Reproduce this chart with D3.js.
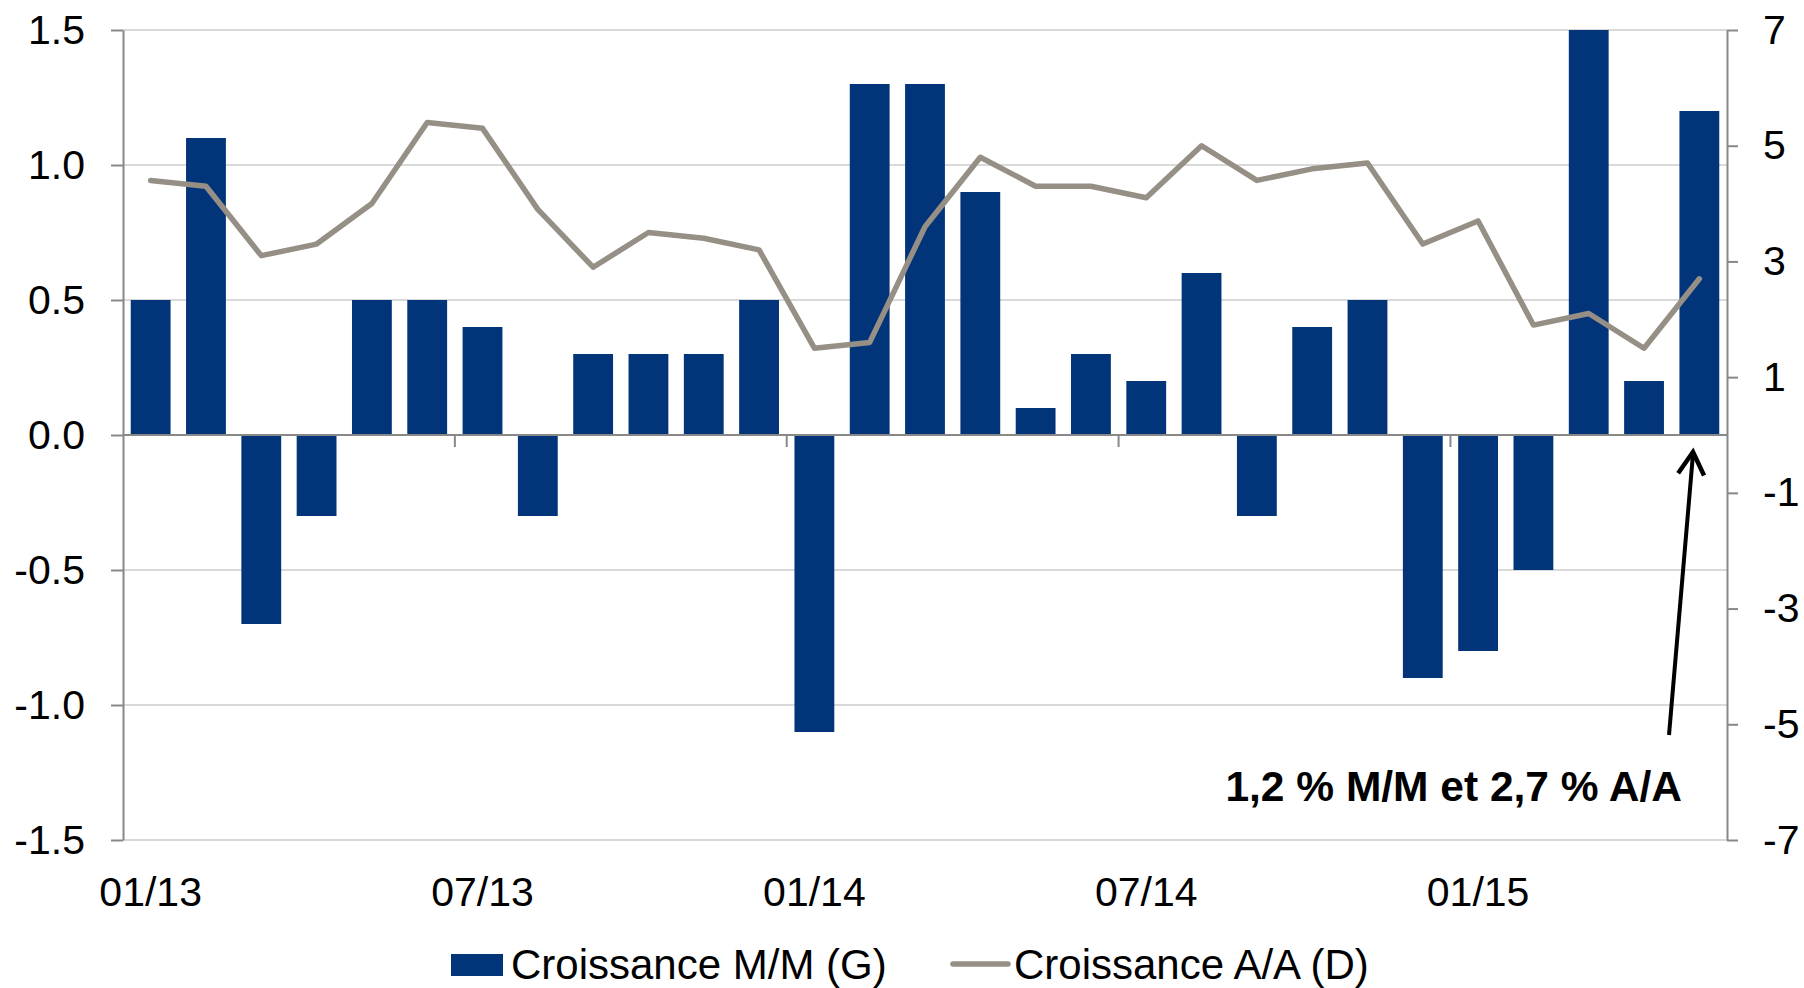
<!DOCTYPE html>
<html>
<head>
<meta charset="utf-8">
<script src="https://cdn.jsdelivr.net/npm/d3@7"></script>
<style>
  html, body { margin: 0; padding: 0; background: #fff; }
  svg { display: block; font-family: "Liberation Sans", Arial, sans-serif; }
</style>
</head>
<body>
<svg id="chart" width="1804" height="988"></svg>
<script>
// months, 01/13 .. 05/15
const months = [
  '01/13', '02/13', '03/13', '04/13', '05/13', '06/13', '07/13', '08/13', '09/13', '10/13', '11/13', '12/13',
  '01/14', '02/14', '03/14', '04/14', '05/14', '06/14', '07/14', '08/14', '09/14', '10/14', '11/14', '12/14',
  '01/15', '02/15', '03/15', '04/15', '05/15'
];

// Croissance M/M (G) - bars, left axis
const mmGrowth = [
  0.5, 1.1, -0.7, -0.3, 0.5, 0.5, 0.4, -0.3, 0.3, 0.3, 0.3, 0.5,
  -1.1, 1.3, 1.3, 0.9, 0.1, 0.3, 0.2, 0.6, -0.3, 0.4, 0.5, -0.9,
  -0.8, -0.5, 1.5, 0.2, 1.2
];

// Croissance A/A (D) - line, right axis
const aaGrowth = [
  4.4, 4.3, 3.1, 3.3, 4.0, 5.4, 5.3, 3.9, 2.9, 3.5, 3.4, 3.2,
  1.5, 1.6, 3.6, 4.8, 4.3, 4.3, 4.1, 5.0, 4.4, 4.6, 4.7, 3.3,
  3.7, 1.9, 2.1, 1.5, 2.7
];

const xLabels = ['01/13', '07/13', '01/14', '07/14', '01/15'];
const leftTicks = [-1.5, -1.0, -0.5, 0.0, 0.5, 1.0, 1.5];
const leftTickLabels = ['-1.5', '-1.0', '-0.5', '0.0', '0.5', '1.0', '1.5'];
const rightTicks = [-7, -5, -3, -1, 1, 3, 5, 7];
const rightTickLabels = ['-7', '-5', '-3', '-1', '1', '3', '5', '7'];
const seriesNames = ['Croissance M/M (G)', 'Croissance A/A (D)'];
const note = '1,2 % M/M et 2,7 % A/A';

const barColor = '#02347a';
const lineColor = '#968f86';
const axisColor = '#888888';
const gridColor = '#d9d9d9';
const fontSize = 41;

const plotLeft = 123, plotRight = 1727, plotTop = 30, plotBottom = 840;

const svg = d3.select('#chart');

const x = d3.scaleBand().domain(months).range([plotLeft, plotRight])
  .paddingInner(0.28).paddingOuter(0.14);
const yL = d3.scaleLinear().domain([-1.5, 1.5]).range([plotBottom, plotTop]);
const yR = d3.scaleLinear().domain([-7, 7]).range([plotBottom, plotTop]);

// gridlines
svg.append('g').selectAll('line').data(leftTicks).enter()
  .append('line')
  .attr('x1', plotLeft).attr('x2', plotRight)
  .attr('y1', d => yL(d)).attr('y2', d => yL(d))
  .attr('stroke', gridColor).attr('stroke-width', 2);

// bars
svg.append('g').selectAll('rect').data(mmGrowth).enter()
  .append('rect')
  .attr('x', (d, i) => x(months[i]))
  .attr('width', x.bandwidth())
  .attr('y', d => yL(Math.max(0, d)))
  .attr('height', d => Math.abs(yL(d) - yL(0)))
  .attr('fill', barColor);

// zero axis line + category tick marks every 6 months
svg.append('line')
  .attr('x1', plotLeft).attr('x2', plotRight)
  .attr('y1', yL(0)).attr('y2', yL(0))
  .attr('stroke', axisColor).attr('stroke-width', 2);

const step = x.step();
svg.append('g').selectAll('line').data([6, 12, 18, 24]).enter()
  .append('line')
  .attr('x1', d => plotLeft + d * step).attr('x2', d => plotLeft + d * step)
  .attr('y1', yL(0)).attr('y2', yL(0) + 12)
  .attr('stroke', axisColor).attr('stroke-width', 2);

// line series
const line = d3.line()
  .x((d, i) => x(months[i]) + x.bandwidth() / 2)
  .y(d => yR(d));

svg.append('path')
  .datum(aaGrowth)
  .attr('d', line)
  .attr('fill', 'none')
  .attr('stroke', lineColor)
  .attr('stroke-width', 5.5)
  .attr('stroke-linejoin', 'round')
  .attr('stroke-linecap', 'round');

// left axis
const axL = svg.append('g')
  .attr('transform', `translate(${plotLeft},0)`)
  .call(d3.axisLeft(yL).tickValues(leftTicks)
    .tickFormat((d, i) => leftTickLabels[i])
    .tickSize(12).tickSizeOuter(0).tickPadding(26));

// right axis
const axR = svg.append('g')
  .attr('transform', `translate(${plotRight},0)`)
  .call(d3.axisRight(yR).tickValues(rightTicks)
    .tickFormat((d, i) => rightTickLabels[i])
    .tickSize(11).tickSizeOuter(0).tickPadding(25));

[axL, axR].forEach(ax => {
  ax.select('.domain').attr('stroke', axisColor).attr('stroke-width', 2);
  ax.selectAll('.tick line').attr('stroke', axisColor).attr('stroke-width', 2);
  ax.selectAll('.tick text')
    .attr('fill', '#000')
    .style('font-size', fontSize + 'px')
    .style('font-family', '"Liberation Sans", Arial, sans-serif');
});

// bottom category labels
const axB = svg.append('g')
  .attr('transform', `translate(0,${plotBottom})`)
  .call(d3.axisBottom(x).tickValues(xLabels).tickSize(0).tickPadding(37));
axB.select('.domain').remove();
axB.selectAll('.tick text')
  .attr('fill', '#000')
  .style('font-size', fontSize + 'px')
  .style('font-family', '"Liberation Sans", Arial, sans-serif');

// annotation + arrow
svg.append('text')
  .attr('x', 1682).attr('y', 801)
  .attr('text-anchor', 'end')
  .style('font-size', '42.5px').style('font-weight', 'bold')
  .attr('fill', '#000')
  .text(note);

const ax0 = 1669, ay0 = 735, ax1 = 1693, ay1 = 452;
svg.append('line')
  .attr('x1', ax0).attr('y1', ay0).attr('x2', ax1).attr('y2', ay1 + 2)
  .attr('stroke', '#000').attr('stroke-width', 4);
const ang = Math.atan2(ay1 - ay0, ax1 - ax0);
const headLen = 26, headAng = Math.PI / 6;
const pts = [
  [ax1 - headLen * Math.cos(ang - headAng), ay1 - headLen * Math.sin(ang - headAng)],
  [ax1, ay1],
  [ax1 - headLen * Math.cos(ang + headAng), ay1 - headLen * Math.sin(ang + headAng)]
];
svg.append('path')
  .attr('d', d3.line()(pts))
  .attr('fill', 'none').attr('stroke', '#000').attr('stroke-width', 4.5)
  .attr('stroke-linejoin', 'miter');

// legend
const lg = svg.append('g');
lg.append('rect')
  .attr('x', 451).attr('y', 954).attr('width', 52).attr('height', 22)
  .attr('fill', barColor);
lg.append('text')
  .attr('x', 511).attr('y', 979)
  .style('font-size', '42px').attr('fill', '#000')
  .text(seriesNames[0]);
lg.append('line')
  .attr('x1', 953).attr('x2', 1008).attr('y1', 964).attr('y2', 964)
  .attr('stroke', lineColor).attr('stroke-width', 5.5).attr('stroke-linecap', 'round');
lg.append('text')
  .attr('x', 1014).attr('y', 979)
  .style('font-size', '42px').attr('fill', '#000')
  .text(seriesNames[1]);
</script>
</body>
</html>
